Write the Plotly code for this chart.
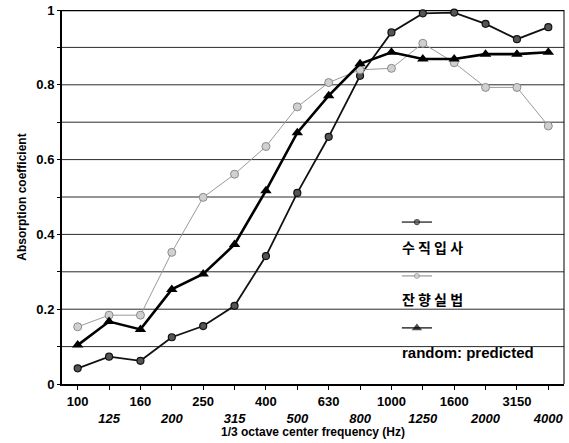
import plotly.graph_objects as go

freqs = ["100", "125", "160", "200", "250", "315", "400", "500", "630",
         "800", "1000", "1250", "1600", "2000", "3150", "4000"]
normal_incidence = [0.042, 0.073, 0.062, 0.125, 0.155, 0.209, 0.342, 0.511,
                    0.661, 0.824, 0.940, 0.991, 0.993, 0.963, 0.922, 0.954]
reverb_room = [0.153, 0.184, 0.184, 0.352, 0.499, 0.561, 0.635, 0.741,
               0.806, 0.840, 0.844, 0.911, 0.859, 0.793, 0.793, 0.690]
random_predicted = [0.104, 0.167, 0.146, 0.253, 0.294, 0.373, 0.517, 0.672,
                    0.771, 0.856, 0.887, 0.869, 0.869, 0.882, 0.882, 0.887]
series_names = ["수 직 입 사", "잔 향 실 법", "random: predicted"]
y_ticks = [0, 0.2, 0.4, 0.6, 0.8, 1]
y_tick_text = ["0", "0.2", "0.4", "0.6", "0.8", "1"]

FONT = "Liberation Sans, Arial, sans-serif"
KFONT = "Noto Sans CJK KR, Liberation Sans, sans-serif"

tick_text = [f"<b>{f}</b>" if i % 2 == 0 else f"<br><b><i>{f}</i></b>"
             for i, f in enumerate(freqs)]

styles = [
    dict(line=dict(color="#111111", width=1.8),
         marker=dict(symbol="circle", size=7, color="#555555",
                     line=dict(color="#111111", width=1.2))),
    dict(line=dict(color="#9a9a9a", width=1),
         marker=dict(symbol="circle", size=8, color="#d0d0d0",
                     line=dict(color="#8a8a8a", width=1))),
    dict(line=dict(color="#000000", width=2.6),
         marker=dict(symbol="triangle-up", size=10, color="#000000",
                     line=dict(color="#000000", width=0))),
]

fig = go.Figure()
for ys, st in zip([normal_incidence, reverb_room, random_predicted], styles):
    fig.add_trace(go.Scatter(x=freqs, y=ys, mode="lines+markers",
                             line=st["line"], marker=st["marker"],
                             showlegend=False, cliponaxis=False))

# custom legend (sample above label), drawn on a hidden overlay axis
leg_y = [0.433, 0.289, 0.150]
txt_y = [0.366, 0.227, 0.083]
leg_x0, leg_x1 = 0.677, 0.737
leg_sizes = [5, 5, 9]
leg_font_sizes = [14, 14, 15]
for i, st in enumerate(styles):
    m = dict(st["marker"])
    fig.add_trace(go.Scatter(x=[leg_x0, (leg_x0 + leg_x1) / 2, leg_x1],
                             y=[leg_y[i]] * 3, mode="lines+markers",
                             line=dict(color=st["line"]["color"], width=1.2),
                             marker=dict(symbol=m["symbol"], color=m["color"],
                                         line=m["line"],
                                         size=[0, leg_sizes[i], 0]),
                             xaxis="x2", yaxis="y2", showlegend=False,
                             hoverinfo="skip"))
    fig.add_annotation(x=leg_x0, y=txt_y[i], xref="paper", yref="paper",
                       text=f"<b>{series_names[i]}</b>", showarrow=False,
                       xanchor="left", yanchor="middle", xshift=-2,
                       font=dict(family=KFONT if i < 2 else FONT,
                                 size=leg_font_sizes[i], color="#000"))

fig.update_layout(
    width=569, height=443,
    margin=dict(l=62, r=5, t=10, b=59),
    paper_bgcolor="white", plot_bgcolor="white",
    font=dict(family=FONT, color="#000"),
    xaxis=dict(type="category", range=[-0.5, 15.5], tickmode="array",
               tickvals=freqs, ticktext=tick_text, tickangle=0,
               automargin=False,
               tickfont=dict(family=FONT, size=13, color="#000"),
               ticks="outside", ticklen=4, tickcolor="#000", tickwidth=1,
               showline=True, linecolor="#000", linewidth=2, mirror=False,
               showgrid=False, zeroline=False,
               title=dict(text="<b>1/3 octave center frequency (Hz)</b>",
                          font=dict(family=FONT, size=12), standoff=0)),
    yaxis=dict(range=[0, 1], tickmode="array", tickvals=y_ticks,
               ticktext=[f"<b>{t}</b>" for t in y_tick_text],
               automargin=False,
               tickfont=dict(family=FONT, size=13, color="#000"),
               ticks="outside", ticklen=3, tickcolor="#000",
               minor=dict(tickmode="linear", tick0=0, dtick=0.1,
                          ticks="outside", ticklen=3, tickcolor="#000",
                          showgrid=False),
               showline=True, linecolor="#000", linewidth=2,
               showgrid=False, zeroline=False,
               title=dict(text="<b>Absorption coefficient</b>",
                          font=dict(family=FONT, size=12), standoff=7)),
    xaxis2=dict(overlaying="x", range=[0, 1], visible=False, domain=[0, 1]),
    yaxis2=dict(overlaying="y", range=[0, 1], visible=False),
)

# horizontal grid lines every 0.1 and borders
for k in range(1, 10):
    fig.add_shape(type="line", xref="paper", yref="y", x0=0, x1=1,
                  y0=k / 10, y1=k / 10, line=dict(color="#2a2a2a", width=1),
                  layer="below")
fig.add_shape(type="line", xref="paper", yref="y", x0=0, x1=1, y0=1, y1=1,
              line=dict(color="#000", width=2.5), layer="below")
fig.add_shape(type="line", xref="paper", yref="paper", x0=1, x1=1, y0=0, y1=1,
              line=dict(color="#000", width=1), layer="below")

fig.write_html("out.html", config={"displayModeBar": False},
               post_script="document.body.style.margin='0';"
                           "document.body.style.overflow='hidden';")
